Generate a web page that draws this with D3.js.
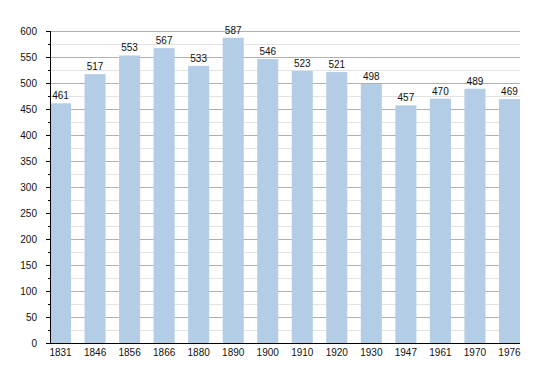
<!DOCTYPE html>
<html>
<head>
<meta charset="utf-8">
<script src="https://cdn.jsdelivr.net/npm/d3@7"></script>
<style>
  body { margin: 0; background: #fff; }
  text { font-family: "Liberation Sans", Arial, sans-serif; }
</style>
</head>
<body>
<div class="center"></div>
<script>
// data
const years = ["1831", "1846", "1856", "1866", "1880", "1890", "1900", "1910", "1920", "1930", "1947", "1961", "1970", "1976"];
const population = [461, 517, 553, 567, 533, 587, 546, 523, 521, 498, 457, 470, 489, 469];
const yMajorTicks = [0, 50, 100, 150, 200, 250, 300, 350, 400, 450, 500, 550, 600];
const yMinorTicks = [25, 75, 125, 175, 225, 275, 325, 375, 425, 475, 525, 575];

const margin = {top: 31, right: 30, bottom: 30, left: 50};
const width = 550 - margin.left - margin.right;
const height = 373 - margin.top - margin.bottom;

const xScale = d3.scaleBand()
    .domain(years)
    .range([0, width])
    .paddingInner(0.39)
    .paddingOuter(0);

const yScale = d3.scaleLinear()
    .domain([0, 600])
    .range([height, 0]);

const svg = d3.select(".center").append("svg")
    .attr("width", 550)
    .attr("height", 373)
  .append("g")
    .attr("transform", `translate(${margin.left},${margin.top})`);

// minor gridlines
svg.append("g")
    .selectAll("line")
    .data(yMinorTicks)
    .enter().append("line")
    .attr("x1", 0).attr("x2", width)
    .attr("y1", d => Math.round(yScale(d)) + 0.5)
    .attr("y2", d => Math.round(yScale(d)) + 0.5)
    .style("stroke", "#e2e2e2");

// major gridlines
svg.append("g")
    .selectAll("line")
    .data(yMajorTicks.slice(1))
    .enter().append("line")
    .attr("x1", 0).attr("x2", width)
    .attr("y1", d => Math.round(yScale(d)) + 0.5)
    .attr("y2", d => Math.round(yScale(d)) + 0.5)
    .style("stroke", "#b0b0b0");

// bars
svg.selectAll(".bar")
    .data(population)
    .enter().append("rect")
    .attr("class", "bar")
    .attr("x", (d, i) => xScale(years[i]))
    .attr("y", d => yScale(d))
    .attr("width", xScale.bandwidth())
    .attr("height", d => height - yScale(d))
    .style("fill", "#b3cde6");

// value labels
svg.selectAll(".val")
    .data(population)
    .enter().append("text")
    .attr("class", "val")
    .attr("x", (d, i) => xScale(years[i]) + xScale.bandwidth() / 2)
    .attr("y", d => yScale(d) - 4)
    .attr("text-anchor", "middle")
    .style("font-size", "10px")
    .style("fill", "#111")
    .text(d => d);

// y axis
const yAxis = d3.axisLeft(yScale)
    .tickValues(yMajorTicks)
    .tickSize(4)
    .tickPadding(9);
const gy = svg.append("g").call(yAxis);
gy.selectAll("text").style("font-size", "10px").style("fill", "#111");
gy.select(".domain").remove();

// minor y ticks
svg.append("g")
    .selectAll("line")
    .data(yMinorTicks)
    .enter().append("line")
    .attr("x1", -2).attr("x2", 0)
    .attr("y1", d => Math.round(yScale(d)) + 0.5)
    .attr("y2", d => Math.round(yScale(d)) + 0.5)
    .style("stroke", "#000");

svg.append("line")
    .attr("x1", 0.5).attr("x2", 0.5)
    .attr("y1", 0).attr("y2", height)
    .style("stroke", "#000");

// x axis
const xAxis = d3.axisBottom(xScale).tickSize(0).tickPadding(6);
const gx = svg.append("g")
    .attr("transform", `translate(0,${height})`)
    .call(xAxis);
gx.selectAll("text").style("font-size", "10px").style("fill", "#111");
gx.select(".domain").remove();
svg.append("line")
    .attr("x1", 0).attr("x2", width)
    .attr("y1", height + 0.5).attr("y2", height + 0.5)
    .style("stroke", "#000");
</script>
</body>
</html>
